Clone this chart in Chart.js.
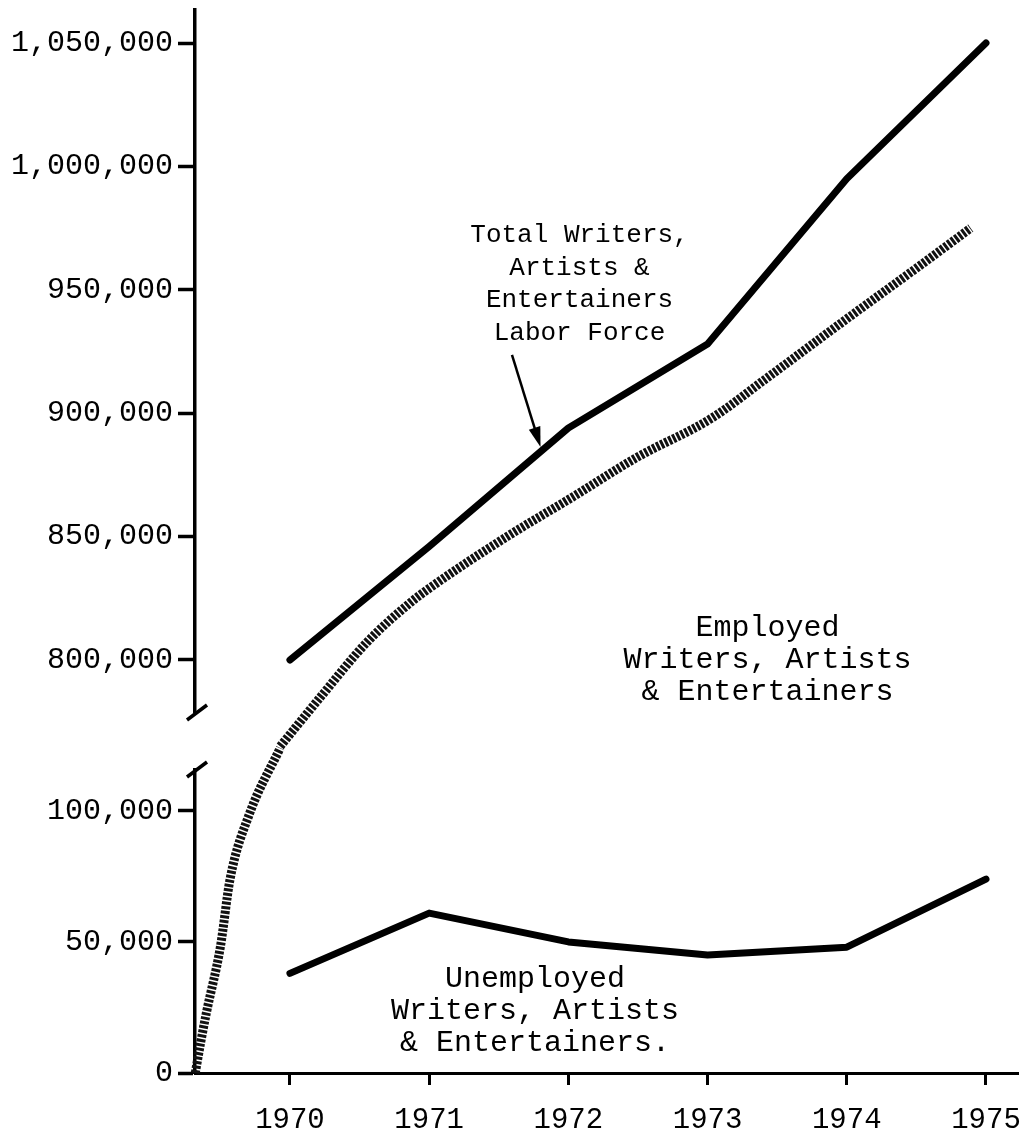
<!DOCTYPE html>
<html>
<head>
<meta charset="utf-8">
<script src="https://cdn.jsdelivr.net/npm/chart.js@4.4.1/dist/chart.umd.min.js"></script>
<style>
  html, body { margin: 0; padding: 0; background: #ffffff; }
  #wrap { width: 1021px; height: 1142px; }
</style>
</head>
<body>
<div id="wrap"><canvas id="c" width="1021" height="1142"></canvas></div>
<script>
// ---------- data ----------
const years = [1970, 1971, 1972, 1973, 1974, 1975];
const totalLaborForce = [800000, 846000, 894000, 928000, 995000, 1050000];
const unemployed = [38000, 61000, 50000, 45000, 48000, 74000];
// Employed curve (drawn across the axis break): lower segment and upper segment
const employedLowerX = [1969.32, 1969.36, 1969.40, 1969.50, 1969.57, 1969.71, 1969.93];
const employedLowerY = [0, 12000, 23000, 48000, 74000, 99000, 124000];
const employedUpperX = [1969.93, 1970.22, 1970.55, 1970.86, 1971.00, 1971.56, 1972.03, 1972.49, 1973.03, 1973.42, 1973.97, 1974.53, 1974.89];
const employedUpperY = [765000, 785000, 807000, 823000, 829000, 850000, 866000, 882000, 898000, 914000, 937000, 960000, 975000];
const upperTicks = [800000, 850000, 900000, 950000, 1000000, 1050000];
const lowerTicks = [0, 50000, 100000];

const labelTotal = ["Total Writers,", "Artists &", "Entertainers", "Labor Force"];
const labelEmployed = ["Employed", "Writers, Artists", "& Entertainers"];
const labelUnemployed = ["Unemployed", "Writers, Artists", "& Entertainers."];

// ---------- helpers ----------
const FONT = "'Liberation Mono', 'DejaVu Sans Mono', monospace";
const pts = (xs, ys) => xs.map((x, i) => ({ x: x, y: ys[i] }));
const fmt = v => Number(v).toLocaleString('en-US');

const annotations = [
  { lines: labelTotal, x: 1972.08, y: 972000, axis: 'yTop', size: 26, spacing: 32.5 },
  { lines: labelEmployed, x: 1973.43, y: 813000, axis: 'yTop', size: 30, spacing: 32 },
  { lines: labelUnemployed, x: 1971.76, y: 36000, axis: 'yBot', size: 30, spacing: 32 }
];
const arrow = { from: { x: 1971.595, y: 923600 }, to: { x: 1971.80, y: 886300 } };

const decorPlugin = {
  id: 'decor',
  afterDatasetsDraw(chart) {
    const ctx = chart.ctx;
    const sx = chart.scales.x, st = chart.scales.yTop, sb = chart.scales.yBot;
    ctx.save();
    // labels
    ctx.fillStyle = '#000';
    ctx.textAlign = 'center';
    ctx.textBaseline = 'middle';
    annotations.forEach(a => {
      const sc = chart.scales[a.axis];
      const cx = sx.getPixelForValue(a.x);
      const cy = sc.getPixelForValue(a.y);
      ctx.font = a.size + 'px ' + FONT;
      a.lines.forEach((t, i) => ctx.fillText(t, cx, cy + i * a.spacing));
    });
    // arrow
    const x1 = sx.getPixelForValue(arrow.from.x), y1 = st.getPixelForValue(arrow.from.y);
    const x2 = sx.getPixelForValue(arrow.to.x), y2 = st.getPixelForValue(arrow.to.y);
    const ang = Math.atan2(y2 - y1, x2 - x1);
    ctx.strokeStyle = '#000';
    ctx.lineWidth = 2.5;
    ctx.beginPath();
    ctx.moveTo(x1, y1);
    ctx.lineTo(x2 - Math.cos(ang) * 12, y2 - Math.sin(ang) * 12);
    ctx.stroke();
    ctx.beginPath();
    ctx.moveTo(x2, y2);
    ctx.lineTo(x2 - Math.cos(ang) * 20 + Math.sin(ang) * 6, y2 - Math.sin(ang) * 20 - Math.cos(ang) * 6);
    ctx.lineTo(x2 - Math.cos(ang) * 20 - Math.sin(ang) * 6, y2 - Math.sin(ang) * 20 + Math.cos(ang) * 6);
    ctx.closePath();
    ctx.fill();
    // axis break marks
    const ax = chart.chartArea.left;
    ctx.lineWidth = 3.5;
    ctx.beginPath();
    ctx.moveTo(ax - 8, st.bottom + 8);
    ctx.lineTo(ax + 12, st.bottom - 7);
    ctx.moveTo(ax - 8, sb.top + 7);
    ctx.lineTo(ax + 12, sb.top - 8);
    ctx.stroke();
    ctx.restore();
  }
};

const yAxisCommon = {
  type: 'linear',
  position: 'left',
  stack: 'yaxes',
  border: { display: true, color: '#000', width: 3.5 },
  grid: { display: true, drawOnChartArea: false, drawTicks: true, tickLength: 17, tickWidth: 3.5, color: '#000' },
  ticks: {
    color: '#000',
    font: { family: FONT, size: 30 },
    padding: 5,
    includeBounds: false,
    callback: v => fmt(v)
  },
  afterFit(scale) { scale.width = 195; scale.paddingTop = 0; scale.paddingBottom = 0; }
};

const employedStyle = {
  borderColor: '#111', borderWidth: 9, borderDash: [3, 1.5], pointRadius: 0,
  cubicInterpolationMode: 'monotone', clip: false
};

new Chart(document.getElementById('c'), {
  type: 'line',
  data: {
    datasets: [
      {
        label: 'Total Writers, Artists & Entertainers Labor Force',
        data: pts(years, totalLaborForce),
        yAxisID: 'yTop',
        borderColor: '#000', borderWidth: 7, pointRadius: 0, tension: 0,
        borderCapStyle: 'round', borderJoinStyle: 'round'
      },
      Object.assign({
        label: 'Employed Writers, Artists & Entertainers',
        data: pts(employedUpperX, employedUpperY),
        yAxisID: 'yTop'
      }, employedStyle),
      Object.assign({
        label: 'Employed (below break)',
        data: pts(employedLowerX, employedLowerY),
        yAxisID: 'yBot'
      }, employedStyle),
      {
        label: 'Unemployed Writers, Artists & Entertainers',
        data: pts(years, unemployed),
        yAxisID: 'yBot',
        borderColor: '#000', borderWidth: 7, pointRadius: 0, tension: 0,
        borderCapStyle: 'round', borderJoinStyle: 'round'
      }
    ]
  },
  options: {
    responsive: false,
    animation: false,
    devicePixelRatio: 1,
    layout: { padding: { top: 10, right: 3, left: 0, bottom: 0 } },
    plugins: { legend: { display: false }, tooltip: { enabled: false } },
    scales: {
      x: {
        type: 'linear',
        position: 'bottom',
        min: 1969.318,
        max: 1975.23,
        border: { display: true, color: '#000', width: 3 },
        grid: { display: true, drawOnChartArea: false, drawTicks: true, tickLength: 12, tickWidth: 3, color: '#000' },
        ticks: { color: '#000', font: { family: FONT, size: 29 }, padding: 18, callback: v => String(v) },
        afterBuildTicks(scale) { scale.ticks = years.map(v => ({ value: v })); },
        afterFit(scale) { scale.height = 69; scale.paddingLeft = 0; scale.paddingRight = 0; }
      },
      yTop: Object.assign({}, yAxisCommon, {
        weight: 3, stackWeight: 702,
        min: 778900, max: 1063400,
        afterBuildTicks(scale) { scale.ticks = upperTicks.map(v => ({ value: v })); }
      }),
      yGap: {
        type: 'linear', position: 'left', stack: 'yaxes', weight: 2, stackWeight: 58,
        min: 0, max: 1,
        border: { display: false }, grid: { display: false }, ticks: { display: false },
        afterFit(scale) { scale.width = 195; scale.paddingTop = 0; scale.paddingBottom = 0; }
      },
      yBot: Object.assign({}, yAxisCommon, {
        weight: 1, stackWeight: 303,
        min: 0, max: 115600,
        afterBuildTicks(scale) { scale.ticks = lowerTicks.map(v => ({ value: v })); }
      })
    }
  },
  plugins: [decorPlugin]
});
</script>
</body>
</html>
